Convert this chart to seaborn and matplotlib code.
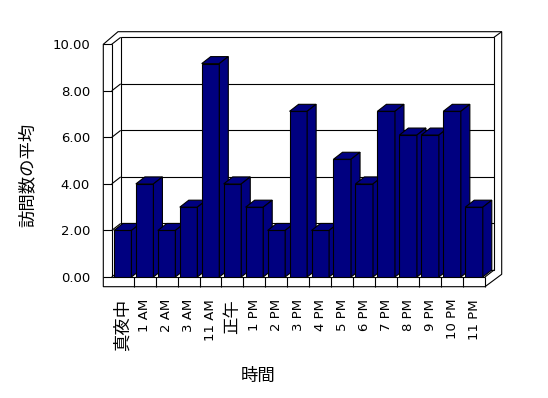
import matplotlib
matplotlib.use('Agg')
import matplotlib.pyplot as plt
from matplotlib.patches import Polygon
import seaborn as sns
import pandas as pd

# データ
hours = ['真夜中', '1 AM', '2 AM', '3 AM', '11 AM', '正午', '1 PM', '2 PM', '3 PM',
         '4 PM', '5 PM', '6 PM', '7 PM', '8 PM', '9 PM', '10 PM', '11 PM']
visits = [2.0, 4.0, 2.0, 3.0, 9.17, 4.0, 3.0, 2.0, 7.12, 2.0, 5.06, 4.0, 7.12, 6.1, 6.1, 7.12, 3.0]
yticks = [0, 2, 4, 6, 8, 10]

sns.set_theme(style='white')
plt.rcParams['font.family'] = ['DejaVu Sans', 'Noto Sans CJK JP']

W, H = 548, 398
fig = plt.figure(figsize=(W / 100, H / 100), dpi=100)
fig.patch.set_facecolor('white')
left, right, bottom, top = 111.7, 485.0, 277.0, 44.3
ax = fig.add_axes([left / W, 1 - bottom / H, (right - left) / W, (bottom - top) / H])
ax.set_facecolor('none')

df = pd.DataFrame({'時間': hours, '訪問数の平均': visits})
sns.barplot(data=df, x='時間', y='訪問数の平均', color='#000080', saturation=1,
            width=0.8, edgecolor='black', linewidth=0.8, ax=ax)
n = len(hours)
ax.set_xlim(-0.5, n - 0.5)
ax.set_ylim(0, 10)

# ピクセル -> データ座標
ux = (right - left) / n
uy = (bottom - top) / 10


def pt(x, y, ox=0, oy=0):
    return (x + ox / ux, y + oy / uy)


dx, dy = 9 / ux, 7 / uy
L, R, T = -0.5, n - 0.5, 10
lw = 0.8


def seg(a, b, z=1):
    ax.plot([a[0], b[0]], [a[1], b[1]], color='black', lw=lw, clip_on=False,
            zorder=z, solid_capstyle='butt')


# 外枠（壁と床）
outline = [pt(L, 0, -8.4, -9.7), pt(R, 0, 0, -9.7), pt(R, 0, 16.7, 2.7),
           pt(R, T, 16.7, 12.6), pt(L, T, 6.3, 12.6), pt(L, T, -8.4, 0)]
ax.add_patch(Polygon(outline, closed=True, facecolor='white', edgecolor='black',
                     lw=lw, clip_on=False, zorder=0.5))
# 奥の壁
back = [pt(L, 0, 9, 7), pt(R, 0, 9, 7), pt(R, T, 9, 7), pt(L, T, 9, 7)]
ax.add_patch(Polygon(back, closed=True, facecolor='white', edgecolor='black',
                     lw=lw, clip_on=False, zorder=0.6))

seg(pt(L, T), pt(L, 0))
seg(pt(L, 0), pt(R, 0))
seg(pt(R, 0), pt(R, 0, 0, -9.7))
seg(pt(R, 0), pt(R, 0, 9, 7))
seg(pt(R, T, 9, 7), pt(R, T, 16.7, 12.6))
for k in range(n - 1):
    seg(pt(k + 0.5, 0), pt(k + 0.5, 0, 0, -9.7))
for v in yticks:
    seg(pt(L, v, -8.4, 0), pt(L, v))
    seg(pt(L, v), pt(L, v, 9, 7))
    if 0 < v < 10:
        seg(pt(L, v, 9, 7), pt(R, v, 9, 7))

# 3D風の上面と側面
for i, p in enumerate(ax.patches[:n]):
    x0, w, h = p.get_x(), p.get_width(), p.get_height()
    z = 3 + i
    p.set_zorder(z)
    top_face = [(x0, h), (x0 + w, h), (x0 + w + dx, h + dy), (x0 + dx, h + dy)]
    side_face = [(x0 + w, 0), (x0 + w + dx, dy), (x0 + w + dx, h + dy), (x0 + w, h)]
    for poly in (top_face, side_face):
        ax.add_patch(Polygon(poly, closed=True, facecolor='#000080', edgecolor='black',
                             lw=lw, clip_on=False, zorder=z))

for s in ax.spines.values():
    s.set_visible(False)

ax.set_yticks(yticks)
ax.set_yticklabels([f'{v:.2f}' for v in yticks], fontsize=9.5, color='black')
ax.set_xticks(range(n))
ax.set_xticklabels(hours, rotation=90, va='top', ha='center', color='black')
for lab in ax.get_xticklabels():
    lab.set_fontsize(12.5 if not lab.get_text().isascii() else 9.5)
ax.tick_params(axis='both', length=0)
ax.tick_params(axis='y', pad=15.6)
ax.tick_params(axis='x', pad=15.8)

ax.set_xlabel('時間', fontsize=12.5, va='center', color='black')
ax.xaxis.set_label_coords((258 - left) / (right - left), (bottom - 376) / (bottom - top))
ax.set_ylabel('訪問数の平均', fontsize=12.5, va='center', color='black')
ax.yaxis.set_label_coords((28 - left) / (right - left), (bottom - 175) / (bottom - top))

fig.savefig('out.png', dpi=100)
plt.close(fig)
